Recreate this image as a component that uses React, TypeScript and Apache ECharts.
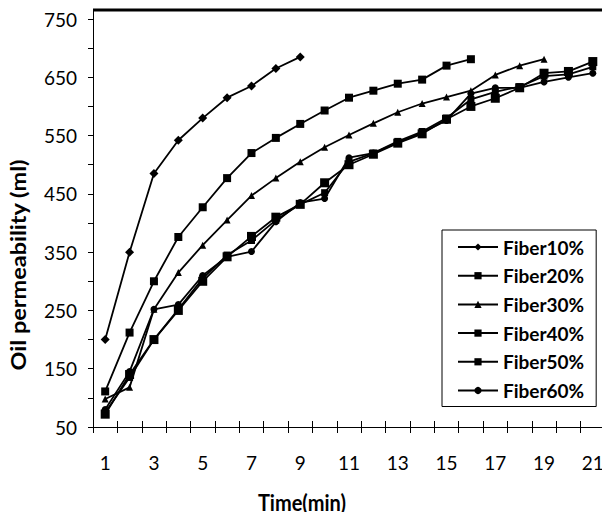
import React, { useEffect, useRef } from "react";
import * as echarts from "echarts";

const categories = ["1", "2", "3", "4", "5", "6", "7", "8", "9", "10", "11", "12", "13", "14", "15", "16", "17", "18", "19", "20", "21"];
const seriesNames = ["Fiber10%", "Fiber20%", "Fiber30%", "Fiber40%", "Fiber50%", "Fiber60%"];
const fiber10 = [200, 350, 485, 542, 580, 615, 635, 665, 685];
const fiber20 = [111, 212, 300, 376, 427, 477, 520, 546, 570, 593, 615, 627, 639, 646, 670, 681];
const fiber30 = [98, 118, 252, 315, 362, 405, 447, 477, 505, 530, 551, 571, 590, 605, 616, 627, 654, 670, 681];
const fiber40 = [72, 140, 200, 250, 300, 342, 377, 410, 432, 469, 500, 518, 537, 553, 578, 600, 614, 632, 657, 660, 677];
const fiber50 = [75, 135, 200, 252, 305, 345, 370, 405, 432, 452, 505, 520, 540, 557, 580, 612, 625, 634, 652, 655, 668];
const fiber60 = [80, 145, 252, 260, 310, 342, 351, 402, 435, 442, 512, 520, 538, 555, 576, 622, 632, 632, 642, 650, 657];
const yTickLabels = ["50", "150", "250", "350", "450", "550", "650", "750"];
const xAxisTitle = "Time(min)";
const yAxisTitle = "Oil permeability (ml)";

const seriesData = [fiber10, fiber20, fiber30, fiber40, fiber50, fiber60];
const symbols = ["diamond", "rect", "triangle", "rect", "rect", "circle"];
const symbolSizes = [9, 8, 7, 9, 7, 7];

export default function App() {
  const ref = useRef<HTMLDivElement>(null);
  useEffect(() => {
    if (!ref.current) return;
    const chart = echarts.init(ref.current, undefined, { renderer: "svg" });
    const font = "Lato";
    chart.setOption({
      animation: false,
      backgroundColor: "#ffffff",
      grid: { left: 93, right: 5, top: 19, bottom: 93, containLabel: false },
      legend: {
        left: 442,
        top: 230,
        orient: "vertical",
        data: seriesNames,
        itemWidth: 40,
        itemHeight: 9,
        itemGap: 8.7,
        padding: [7, 12, 6, 15],
        borderColor: "#000",
        borderWidth: 1,
        backgroundColor: "#fff",
        textStyle: { fontFamily: font, fontWeight: "bold", fontSize: 19, color: "#000", lineHeight: 20 },
      },
      xAxis: [
        {
          type: "category",
          data: categories,
          boundaryGap: true,
          axisLine: { lineStyle: { color: "#000", width: 1 } },
          axisTick: { show: true, interval: 0, length: 6, lineStyle: { color: "#000" } },
          axisLabel: { interval: 1, margin: 26, fontFamily: font, fontSize: 19, color: "#000" },
        },
        {
          type: "category",
          data: categories,
          position: "bottom",
          boundaryGap: true,
          axisLine: { show: false },
          axisTick: { show: true, inside: true, interval: 0, length: 6, lineStyle: { color: "#000" } },
          axisLabel: { show: false },
        },
      ],
      yAxis: {
        type: "value",
        min: 50,
        max: 750,
        interval: 50,
        splitLine: { show: false },
        axisLine: { show: true, lineStyle: { color: "#000", width: 1 } },
        axisTick: { show: true, length: 5, lineStyle: { color: "#000" } },
        axisLabel: {
          margin: 16,
          fontFamily: font,
          fontSize: 19,
          color: "#000",
          formatter: (v: number) => (yTickLabels.includes(String(v)) ? String(v) : ""),
        },
      },
      series: seriesNames.map((name, i) => ({
        name,
        type: "line",
        data: seriesData[i],
        symbol: symbols[i],
        symbolSize: symbolSizes[i],
        showSymbol: true,
        color: "#000",
        itemStyle: { color: "#000" },
        lineStyle: { color: "#000", width: 1.8 },
      })),
      graphic: [
        { type: "line", shape: { x1: 93, y1: 10, x2: 607, y2: 10 }, style: { stroke: "#000", lineWidth: 3 } },
        { type: "line", shape: { x1: 606.5, y1: 10, x2: 606.5, y2: 432 }, style: { stroke: "#000", lineWidth: 3 } },
        { type: "line", shape: { x1: 93.5, y1: 10, x2: 93.5, y2: 19 }, style: { stroke: "#000", lineWidth: 1 } },
        {
          type: "text",
          x: 302,
          y: 502,
          scaleY: 1.15,
          style: { text: xAxisTitle, fontFamily: font, fontWeight: "bold", fontSize: 20, fill: "#000", align: "center", verticalAlign: "middle" },
        },
        {
          type: "text",
          x: 18,
          y: 265,
          rotation: Math.PI / 2,
          scaleX: 1.12,
          style: { text: yAxisTitle, fontFamily: font, fontWeight: "bold", fontSize: 21, fill: "#000", align: "center", verticalAlign: "middle" },
        },
      ],
    });
    return () => chart.dispose();
  }, []);
  return <div ref={ref} style={{ width: 610, height: 520, margin: -8 }} />;
}
